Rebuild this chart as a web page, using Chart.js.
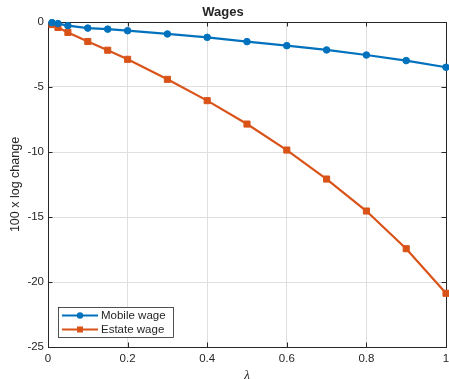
<!DOCTYPE html>
<html>
<head>
<meta charset="utf-8">
<script src="https://cdn.jsdelivr.net/npm/chart.js@4/dist/chart.umd.min.js"></script>
<style>
    html, body { margin: 0; padding: 0; background: #fff; }
    #wrap { width: 449px; height: 379px; }
</style>
</head>
<body>
<div id="wrap"><canvas id="wageChart" width="449" height="379"></canvas></div>
<script>
// Data
const lambdaValues = [0.01, 0.025, 0.05, 0.1, 0.15, 0.2, 0.3, 0.4, 0.5, 0.6, 0.7, 0.8, 0.9, 1];
const mobileWage = [-0.05, -0.12, -0.28, -0.47, -0.55, -0.67, -0.92, -1.18, -1.51, -1.82, -2.15, -2.54, -2.97, -3.48];
const estateWage = [-0.2, -0.42, -0.8, -1.5, -2.17, -2.87, -4.41, -6.05, -7.85, -9.85, -12.08, -14.54, -17.44, -20.87];
const xTicks = [0, 0.2, 0.4, 0.6, 0.8, 1];
const yTicks = [-25, -20, -15, -10, -5, 0];
const seriesLabels = ['Mobile wage', 'Estate wage'];

const BLUE = '#0072BD';
const ORANGE = '#D95319';
const AXIS = '#262626';
const FONT = '"Liberation Sans", Arial, sans-serif';

// Build points from arrays
function toPoints(ys) {
    return lambdaValues.map((x, i) => ({ x: x, y: ys[i] }));
}

// Box round the axes with inward ticks, like MATLAB
const axesBox = {
    id: 'axesBox',
    beforeDatasetsDraw(chart) {
        const { ctx, chartArea: a, scales } = chart;
        const len = 4.5;
        ctx.save();
        ctx.strokeStyle = AXIS;
        ctx.lineWidth = 1;
        ctx.beginPath();
        xTicks.forEach(v => {
            const px = Math.round(scales.x.getPixelForValue(v)) + 0.5;
            ctx.moveTo(px, a.bottom); ctx.lineTo(px, a.bottom - len);
            ctx.moveTo(px, a.top); ctx.lineTo(px, a.top + len);
        });
        yTicks.forEach(v => {
            const py = Math.round(scales.y.getPixelForValue(v)) + 0.5;
            ctx.moveTo(a.left, py); ctx.lineTo(a.left + len, py);
            ctx.moveTo(a.right, py); ctx.lineTo(a.right - len, py);
        });
        ctx.stroke();
        ctx.strokeRect(Math.round(a.left) + 0.5, Math.round(a.top) + 0.5,
            Math.round(a.right - a.left), Math.round(a.bottom - a.top));
        ctx.restore();
    }
};

// Legend box in the lower left corner of the axes
const cornerLegend = {
    id: 'cornerLegend',
    afterDraw(chart) {
        const { ctx, chartArea: a } = chart;
        const x = a.left + 10, w = 115, h = 30;
        const y = a.bottom - 10 - h;
        ctx.save();
        ctx.fillStyle = '#fff';
        ctx.fillRect(x, y, w, h);
        ctx.strokeStyle = AXIS;
        ctx.lineWidth = 0.8;
        ctx.strokeRect(x + 0.5, y + 0.5, w, h);
        ctx.font = '11.5px ' + FONT;
        ctx.textBaseline = 'middle';
        chart.data.datasets.forEach((ds, i) => {
            const cy = y + 8.5 + i * 14;
            ctx.strokeStyle = ds.borderColor;
            ctx.lineWidth = 2;
            ctx.beginPath();
            ctx.moveTo(x + 4, cy); ctx.lineTo(x + 40, cy);
            ctx.stroke();
            ctx.fillStyle = ds.borderColor;
            if (ds.pointStyle === 'rect') {
                ctx.fillRect(x + 22 - 3, cy - 3, 6, 6);
            } else {
                ctx.beginPath();
                ctx.arc(x + 22, cy, 3.2, 0, Math.PI * 2);
                ctx.fill();
            }
            ctx.fillStyle = AXIS;
            ctx.fillText(ds.label, x + 43, cy + 0.5);
        });
        ctx.restore();
    }
};

new Chart(document.getElementById('wageChart'), {
    type: 'line',
    data: {
        datasets: [{
            label: seriesLabels[0],
            data: toPoints(mobileWage),
            borderColor: BLUE,
            backgroundColor: BLUE,
            borderWidth: 2.2,
            pointStyle: 'circle',
            pointRadius: 3.3,
            pointBorderWidth: 1,
            tension: 0,
            clip: false
        }, {
            label: seriesLabels[1],
            data: toPoints(estateWage),
            borderColor: ORANGE,
            backgroundColor: ORANGE,
            borderWidth: 2.2,
            pointStyle: 'rect',
            pointRadius: 4.3,
            pointBorderWidth: 1,
            tension: 0,
            clip: false
        }]
    },
    options: {
        responsive: false,
        animation: false,
        devicePixelRatio: 1,
        layout: { autoPadding: false, padding: { left: 0, right: 3, top: 0, bottom: 0 } },
        plugins: {
            legend: { display: false },
            tooltip: { enabled: false },
            title: {
                display: true,
                text: 'Wages',
                color: AXIS,
                font: { family: FONT, size: 13, weight: 'bold' },
                padding: { top: 5, bottom: 1.4 }
            }
        },
        scales: {
            x: {
                type: 'linear',
                min: 0,
                max: 1,
                afterBuildTicks: s => { s.ticks = xTicks.map(v => ({ value: v })); },
                afterFit: s => { s.height = 32; s.paddingLeft = 0; s.paddingRight = 0; },
                ticks: {
                    color: AXIS,
                    padding: 5,
                    maxRotation: 0,
                    font: { family: FONT, size: 11.5 },
                    callback: v => String(v)
                },
                grid: { color: '#dfdfdf', drawTicks: false },
                border: { display: false },
                title: {
                    display: true,
                    text: 'λ',
                    color: AXIS,
                    font: { family: '"Liberation Serif", "Times New Roman", serif', size: 13, style: 'italic' },
                    padding: { top: 0, bottom: -4 }
                }
            },
            y: {
                type: 'linear',
                min: -25,
                max: 0,
                afterBuildTicks: s => { s.ticks = yTicks.map(v => ({ value: v })); },
                afterFit: s => { s.width = 48; s.paddingTop = 0; s.paddingBottom = 0; },
                ticks: {
                    color: AXIS,
                    padding: 4,
                    font: { family: FONT, size: 11.5 },
                    callback: v => String(v)
                },
                grid: { color: '#dfdfdf', drawTicks: false },
                border: { display: false },
                title: {
                    display: true,
                    text: '100 x log change',
                    color: AXIS,
                    font: { family: FONT, size: 12.5 },
                    padding: { top: 8, bottom: 0 }
                }
            }
        }
    },
    plugins: [axesBox, cornerLegend]
});
</script>
</body>
</html>
